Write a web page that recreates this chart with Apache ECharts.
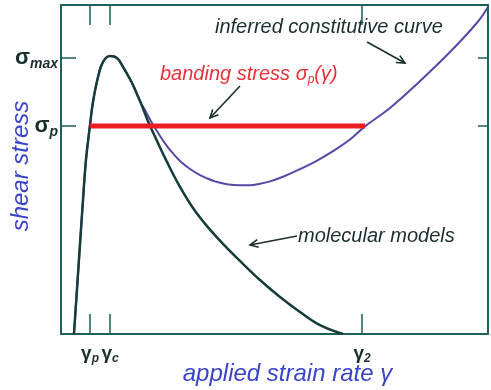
<!DOCTYPE html>
<html><head><meta charset="utf-8">
<script src="https://cdn.jsdelivr.net/npm/echarts@6/dist/echarts.min.js"></script>
<style>html,body{margin:0;padding:0;background:#fff}#c{width:491px;height:390px}</style>
</head><body><div id="c"></div>
<script>
// ---- data (arbitrary units: x = applied strain rate, y = shear stress) ----
const xTickValues = [6.8, 11.5, 70.5];
const xTickLabels = ['γ{s|p}', 'γ{s|c}', 'γ{s|2}'];
const yTickValues = [63.2, 83.9];
const yTickLabels = ['σ{s|p}', 'σ{s|max}'];
const molecularModels = [
  [3.04,0],[3.98,18.2],[5.15,40.7],[5.85,52.9],[6.79,63.5],[7.49,70.5],[8.67,78.1],
  [9.84,82.7],[11.48,84.5],[13.11,83.9],[14.52,81.2],[16.63,76.3],[18.5,70.8],
  [20.37,64.7],[22.48,58.7],[24.82,52.3],[27.87,44.7],[30.91,38.3],[34.19,32.8],
  [37.94,27.4],[41.92,22.2],[46.6,16.4],[51.29,11.25],[55.97,6.7],[60.66,2.7],[66.04,0]
];
const inferredCurve = [
  [3.04,0],[3.98,18.2],[5.15,40.7],[5.85,52.9],[6.79,63.5],[7.49,70.5],[8.67,78.1],
  [9.84,82.7],[11.48,84.5],[13.11,83.9],[14.52,81.2],[16.63,76.3],[18.5,70.8],
  [19.91,67.5],[21.31,64.1],[23.19,60.2],[24.82,57.1],[26.23,54.9],[27.87,52.6],
  [30.21,50.15],[32.55,48.3],[34.19,47.3],[36.07,46.4],[38.88,45.5],[41.92,45.2],
  [44.26,45.2],[46.6,45.65],[48.95,46.4],[51.99,47.8],[55.97,50.1],[59.95,52.7],
  [63.7,55.6],[67.68,59.1],[71.19,63.1],[77.05,68.7],[83.37,76.0],[91.1,85.7],
  [97.42,94.6],[100,99.4]
];
const bandingStress = 63.2;
const bandingRange = [6.8, 71.2];

const frame = '#1d5f5a';
const ink = '#1b2e2e';
const blue = '#3a44c8';
const font = '"Liberation Sans", Arial, sans-serif';

const chart = echarts.init(document.getElementById('c'), null, {renderer: 'canvas'});

function labelFor(values, labels) {
  return v => {
    for (let i = 0; i < values.length; i++) if (Math.abs(values[i] - v) < 1e-6) return labels[i];
    return '';
  };
}

function arrow(x1, y1, x2, y2) {
  const a = Math.atan2(y2 - y1, x2 - x1), L = 9, w = 0.45;
  return [
    {type: 'line', shape: {x1, y1, x2, y2}, style: {stroke: ink, lineWidth: 1.6}},
    {type: 'polyline', shape: {points: [
      [x2 - L * Math.cos(a - w), y2 - L * Math.sin(a - w)], [x2, y2],
      [x2 - L * Math.cos(a + w), y2 - L * Math.sin(a + w)]]},
     style: {stroke: ink, lineWidth: 1.6, fill: null}}
  ];
}

const axisLine = {show: true, onZero: false, lineStyle: {color: frame, width: 2}};
const tickStyle = {color: frame, width: 1.5};

chart.setOption({
  animation: false,
  grid: {left: 61, right: 3, top: 5, bottom: 56, containLabel: false, outerBoundsMode: 'none'},
  xAxis: [{
    type: 'value', min: 0, max: 100, position: 'bottom',
    axisLine, splitLine: {show: false},
    axisTick: {show: true, inside: true, length: 20, customValues: xTickValues, lineStyle: tickStyle},
    axisLabel: {show: true, customValues: xTickValues, formatter: labelFor(xTickValues, xTickLabels), margin: 8,
      color: ink, fontFamily: font, fontSize: 19, fontWeight: 'bold',
      rich: {s: {fontSize: 12, fontStyle: 'italic', fontWeight: 'bold', color: ink, padding: [11, 0, 0, 0], fontFamily: font}}},
    name: 'applied strain rate γ', nameLocation: 'middle', nameGap: 28, nameMoveOverlap: false,
    nameTextStyle: {color: blue, fontFamily: font, fontStyle: 'italic', fontSize: 24, padding: [0, 0, 0, 26]}
  }, {
    type: 'value', min: 0, max: 100, position: 'top',
    axisLine, splitLine: {show: false}, axisLabel: {show: false},
    axisTick: {show: true, inside: true, length: 20, customValues: xTickValues, lineStyle: tickStyle}
  }],
  yAxis: [{
    type: 'value', min: 0, max: 100, position: 'left',
    axisLine, splitLine: {show: false},
    axisTick: {show: true, inside: true, length: 15, customValues: yTickValues, lineStyle: tickStyle},
    axisLabel: {show: true, customValues: yTickValues, formatter: labelFor(yTickValues, yTickLabels), margin: 3,
      color: ink, fontFamily: font, fontSize: 22, fontWeight: 'bold',
      rich: {s: {fontSize: 14, fontStyle: 'italic', fontWeight: 'bold', color: ink, padding: [13, 0, 0, 0], fontFamily: font}}},
    name: 'shear stress', nameLocation: 'middle', nameGap: 28, nameRotate: 90, nameMoveOverlap: false,
    nameTextStyle: {color: blue, fontFamily: font, fontStyle: 'italic', fontSize: 24, padding: [0, 0, 0, 7]}
  }, {
    type: 'value', min: 0, max: 100, position: 'right',
    axisLine, splitLine: {show: false}, axisLabel: {show: false},
    axisTick: {show: true, inside: true, length: 10, customValues: yTickValues, lineStyle: tickStyle}
  }],
  series: [{
    name: 'inferred constitutive curve', type: 'line', data: inferredCurve, smooth: 0.4,
    showSymbol: false, lineStyle: {color: '#5549a8', width: 2}, z: 2
  }, {
    name: 'molecular models', type: 'line', data: molecularModels, smooth: 0.4,
    showSymbol: false, lineStyle: {color: '#163c3c', width: 2.5}, z: 3
  }, {
    name: 'banding stress', type: 'line', showSymbol: false,
    data: [[bandingRange[0], bandingStress], [bandingRange[1], bandingStress]],
    lineStyle: {color: '#ec1c24', width: 5}, z: 4
  }],
  graphic: [
    {type: 'text', left: 215, top: 17, style: {text: 'inferred constitutive curve', fill: ink,
      font: 'italic 20px ' + font}},
    {type: 'text', left: 160, top: 64, style: {text: 'banding stress σ{s|p}(γ)', fill: '#e8303a',
      font: 'italic 20px ' + font,
      rich: {s: {fontSize: 12, fontStyle: 'italic', fill: '#e8303a', padding: [12, 0, 0, 0], fontFamily: font}}}},
    {type: 'text', left: 298, top: 226, style: {text: 'molecular models', fill: ink,
      font: 'italic 20px ' + font}},
    ...arrow(367, 42, 405, 63),
    ...arrow(240, 86, 210, 118),
    ...arrow(297, 236, 250, 245)
  ]
});
</script></body></html>
